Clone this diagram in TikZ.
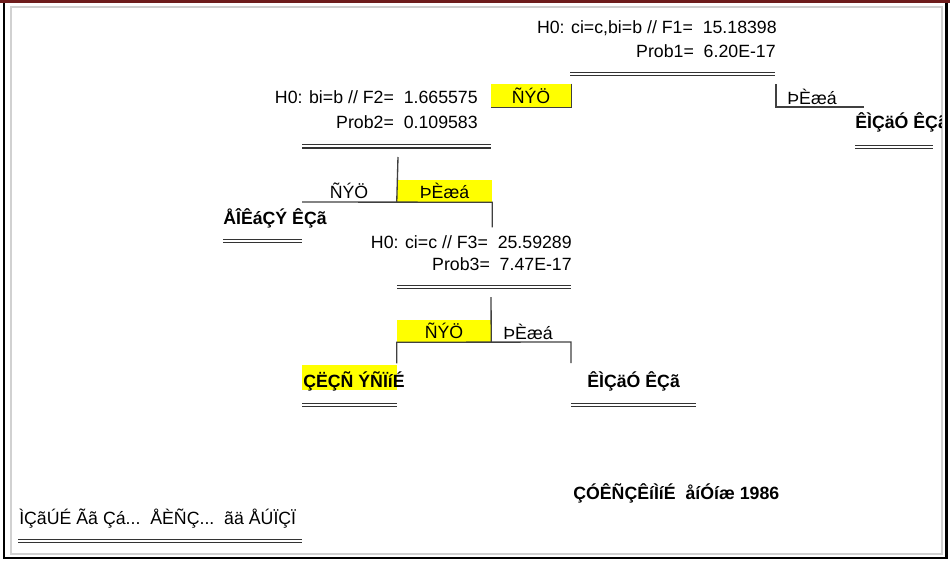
\documentclass[tikz,border=0pt]{standalone}
\usepackage{fontspec}
\setmainfont{Liberation Sans}
\usetikzlibrary{positioning}
\definecolor{frameRed}{RGB}{110,28,28}
\definecolor{cellYellow}{RGB}{255,255,0}
\definecolor{treeGray}{RGB}{64,64,64}
\tikzset{
  txt/.style={inner sep=0pt, font=\fontsize{13.3}{16}\selectfont},
  leaf/.style={inner sep=0pt, font=\fontsize{13.3}{16}\selectfont\bfseries},
  branch/.style={draw=treeGray, line width=1pt},
  dbl/.style={draw=black!80, line width=0.9pt, double=white, double distance=1.6pt},
  cell/.style={fill=cellYellow, inner sep=0pt, font=\fontsize{13.3}{16}\selectfont},
}
\begin{document}
\begin{tikzpicture}[x=0.75pt,y=0.75pt,yscale=-1,xscale=1]
\useasboundingbox (0,0) rectangle (950,561);
% frame
\fill[frameRed] (0,0) rectangle (950,2.5);
\draw[black, line width=2.2pt] (4,3) -- (4,558) -- (946.5,558) -- (946.5,3);
\draw[black!18, line width=1.5pt] (10.5,6.5) rectangle (941.5,554);
\begin{scope}
\clip (11,7) rectangle (941,553);
% first test
\node[txt, anchor=east] (f1) at (777,28) {H0: ci=c,bi=b // F1=~~15.18398};
\node[txt, anchor=east] (p1) at (776,51) {Prob1=~~6.20E-17};
\coordinate (d1a) at (570,74.2);
\coordinate (d1b) at (775,74.2);
\draw[dbl] (d1a) -- (d1b);
\node[cell, minimum width=60pt, minimum height=17.25pt] (no1) at (531,95.5) {ÑÝÖ};
\draw[branch] (no1.north east) -- (no1.south east) -- (no1.south west);
\coordinate (yes1top) at (776,84);
\coordinate (yes1end) at (864,107);
\draw[branch] (yes1top) -- (yes1top |- yes1end) -- (yes1end);
\node[txt] (yes1) at (812,97) {ÞÈæá};
% leaf: right of first test
\node[leaf, anchor=west] (leafA) at (855,122) {ÊÌÇäÓ ÊÇã};
\draw[dbl] (855,147) -- (933,147);
% second test
\node[txt, anchor=east] (f2) at (478,97) {H0: bi=b // F2=~~1.665575};
\node[txt, anchor=east] (p2) at (478,122) {Prob2=~~0.109583};
\draw[dbl] (302,146.3) -- (491,146.3);
\node[cell, minimum width=71.25pt, minimum height=16.5pt] (yes2) at (444.5,191) {ÞÈæá};
\node[txt] (no2) at (349,191) {ÑÝÖ};
\coordinate (split2) at (398,157);
\coordinate (no2end) at (302,202);
\draw[branch] (split2) -- (yes2.south west);
\draw[branch] (no2end) -- (yes2.south east) -- ++(0,25) coordinate (yes2end);
% leaf: left of second test
\node[leaf, anchor=west] (leafB) at (223,218) {ÅÎÊáÇÝ ÊÇã};
\draw[dbl] (223,240.8) -- (302,240.8);
% third test
\node[txt, anchor=east] (f3) at (572,242) {H0: ci=c // F3=~~25.59289};
\node[txt, anchor=east] (p3) at (572,264) {Prob3=~~7.47E-17};
\draw[dbl] (397,287) -- (571,287);
\node[cell, minimum width=70.5pt, minimum height=16.5pt] (no3) at (444,331) {ÑÝÖ};
\node[txt] (yes3) at (528,332) {ÞÈæá};
\coordinate (split3) at (491,297);
\coordinate (yes3end) at (571,342);
\draw[branch] (split3) -- (no3.south east);
\draw[branch] (no3.south west) ++(0,21) -- (no3.south west) -- (yes3end) -- ++(0,21);
% leaves of third test
\fill[cellYellow] (302,365) rectangle (397,390);
\node[leaf, anchor=west] (leafC) at (303,381) {ÇËÇÑ ÝÑÏíÉ};
\draw[dbl] (302,405) -- (397,405);
\node[leaf, anchor=west] (leafD) at (587,381) {ÊÌÇäÓ ÊÇã};
\draw[dbl] (571,405) -- (696,405);
% footer
\node[leaf, anchor=west] (title) at (573,493) {ÇÓÊÑÇÊíÌíÉ~~åíÓíæ 1986};
\node[txt, anchor=west] (credit) at (19,519) {ÌÇãÚÉ Ãã Çá...~~ÅÈÑÇ...~~ãä ÅÚÏÇÏ};
\draw[dbl] (18,541) -- (302,541);
\end{scope}
\end{tikzpicture}
\end{document}
